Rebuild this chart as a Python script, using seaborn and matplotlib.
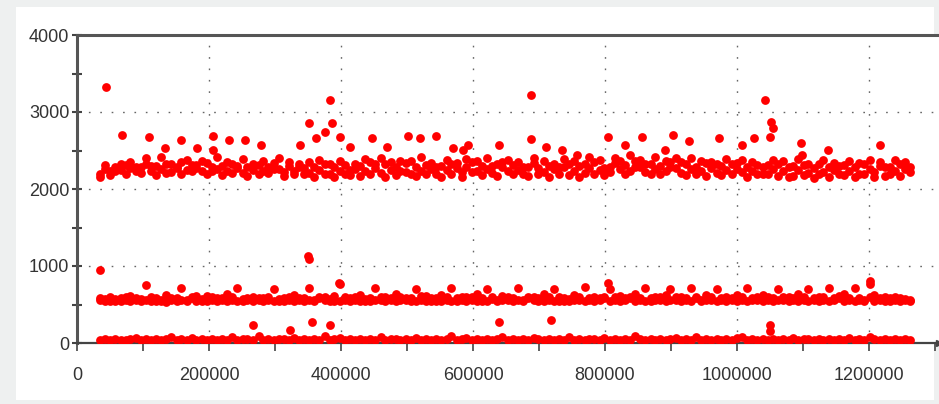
import numpy as np
import pandas as pd
import matplotlib
matplotlib.use('Agg')
import matplotlib.pyplot as plt
import matplotlib.ticker as mticker
from matplotlib.patches import Rectangle
import seaborn as sns

sns.set_style('white')
plt.rcParams['font.family'] = ['Liberation Sans Narrow', 'Liberation Sans', 'DejaVu Sans']

# sample positions (thousands)
x_k = [35, 43, 50, 58, 66, 74, 81, 89, 97, 104,
       112, 120, 127, 135, 143, 151, 158, 166, 174, 181,
       189, 197, 204, 212, 220, 228, 235, 243, 251, 258,
       267, 275, 282, 290, 298, 306, 313, 321, 329, 336,
       344, 352, 359, 367, 375, 383, 390, 398, 406, 413,
       421, 429, 436, 444, 452, 460, 467, 475, 483, 490,
       498, 506, 513, 521, 529, 537, 544, 552, 560, 567,
       575, 583, 590, 598, 606, 614, 621, 629, 637, 644,
       653, 661, 668, 676, 684, 692, 699, 707, 715, 722,
       730, 738, 745, 753, 761, 769, 776, 784, 792, 799,
       807, 815, 822, 830, 838, 846, 853, 861, 869, 876,
       884, 892, 899, 907, 915, 923, 930, 938, 946, 953,
       961, 969, 976, 984, 992, 1000, 1007, 1015, 1023, 1030,
       1039, 1047, 1054, 1062, 1070, 1078, 1085, 1093, 1101, 1108,
       1116, 1124, 1131, 1139, 1147, 1155, 1162, 1170, 1178, 1185,
       1193, 1201, 1208, 1216, 1224, 1232, 1239, 1247, 1255, 1262]

top_a = [2200, 2260, 2230, 2290, 2250, 2310, 2270, 2230, 2280, 2320,
         2240, 2300, 2260, 2330, 2220, 2290, 2350, 2250, 2310, 2270,
         2230, 2340, 2280, 2260, 2300, 2240, 2320, 2270, 2210, 2290,
         2250, 2310, 2230, 2280, 2340, 2260, 2220, 2300, 2240, 2330,
         2270, 2210, 2290, 2250, 2330, 2200, 2280, 2240, 2310, 2180,
         2260, 2300, 2230, 2350, 2270, 2210, 2320, 2250, 2290, 2230,
         2340, 2200, 2280, 2240, 2310, 2260, 2190, 2300, 2250, 2330,
         2270, 2220, 2290, 2350, 2240, 2300, 2260, 2210, 2320, 2280,
         2230, 2310, 2250, 2200, 2290, 2340, 2270, 2220, 2300, 2260,
         2190, 2280, 2330, 2240, 2300, 2210, 2270, 2350, 2250, 2180,
         2290, 2340, 2260, 2310, 2230, 2370, 2280, 2220, 2330, 2260,
         2300, 2240, 2350, 2270, 2210, 2320, 2260, 2290, 2230, 2340,
         2270, 2210, 2300, 2250, 2330, 2260, 2220, 2290, 2240, 2310,
         2280, 2190, 2260, 2320, 2230, 2290, 2170, 2250, 2310, 2210,
         2270, 2330, 2220, 2290, 2250, 2190, 2310, 2240, 2280, 2200,
         2330, 2260, 2220, 2300, 2170, 2280, 2240, 2320, 2260, 2290]

top_b = [2150, 2310, 2180, 2240, 2330, 2190, 2350, 2290, 2210, 2400,
         2300, 2180, 2420, 2210, 2330, 2270, 2190, 2380, 2230, 2310,
         2360, 2190, 2230, 2420, 2180, 2350, 2210, 2300, 2390, 2170,
         2330, 2190, 2370, 2210, 2260, 2400, 2170, 2350, 2200, 2280,
         2190, 2350, 2160, 2380, 2200, 2320, 2150, 2360, 2200, 2250,
         2330, 2170, 2390, 2200, 2320, 2400, 2160, 2350, 2180, 2370,
         2220, 2360, 2170, 2410, 2200, 2340, 2290, 2160, 2380, 2200,
         2340, 2160, 2390, 2220, 2360, 2180, 2400, 2300, 2170, 2350,
         2380, 2190, 2350, 2290, 2170, 2400, 2200, 2370, 2160, 2330,
         2290, 2390, 2180, 2360, 2150, 2330, 2420, 2200, 2380, 2270,
         2220, 2400, 2360, 2190, 2440, 2290, 2380, 2330, 2200, 2410,
         2190, 2370, 2290, 2400, 2350, 2180, 2400, 2200, 2360, 2170,
         2350, 2330, 2180, 2390, 2200, 2340, 2380, 2160, 2350, 2200,
         2190, 2310, 2380, 2170, 2360, 2150, 2300, 2390, 2180, 2330,
         2140, 2200, 2380, 2160, 2340, 2300, 2180, 2360, 2160, 2340,
         2200, 2380, 2160, 2350, 2280, 2200, 2380, 2170, 2350, 2220]

mid_a = [560, 570, 600, 550, 580, 560, 610, 560, 570, 750,
         550, 590, 560, 620, 560, 580, 720, 560, 600, 550,
         570, 610, 560, 590, 560, 630, 560, 720, 570, 560,
         600, 560, 580, 560, 700, 550, 590, 560, 620, 560,
         580, 720, 560, 600, 560, 570, 610, 760, 560, 590,
         560, 620, 550, 580, 710, 560, 600, 560, 630, 560,
         560, 590, 700, 560, 610, 550, 580, 620, 560, 720,
         580, 560, 600, 560, 630, 550, 700, 570, 560, 610,
         560, 590, 720, 560, 600, 560, 580, 630, 560, 700,
         600, 550, 570, 620, 560, 730, 560, 600, 560, 580,
         700, 560, 610, 560, 580, 640, 560, 720, 590, 560,
         560, 620, 700, 560, 600, 560, 710, 580, 560, 620,
         560, 700, 560, 600, 560, 620, 560, 710, 580, 560,
         620, 560, 580, 700, 560, 600, 560, 630, 560, 700,
         560, 600, 560, 710, 560, 580, 630, 560, 720, 580,
         560, 760, 620, 560, 600, 580, 560, 590, 560, 560]

mid_b = [580, 540, 550, 570, 540, 600, 550, 580, 540, 560,
         600, 540, 550, 530, 590, 550, 560, 540, 580, 610,
         540, 550, 600, 540, 580, 550, 600, 540, 550, 590,
         540, 590, 550, 600, 540, 570, 550, 600, 540, 580,
         550, 560, 540, 580, 600, 540, 550, 540, 600, 550,
         600, 540, 570, 550, 560, 600, 540, 580, 550, 600,
         580, 540, 550, 610, 540, 580, 550, 540, 600, 550,
         540, 600, 550, 600, 540, 580, 550, 600, 540, 560,
         600, 540, 560, 550, 580, 600, 540, 550, 600, 550,
         550, 590, 540, 560, 600, 550, 590, 540, 580, 600,
         550, 600, 540, 590, 600, 540, 580, 550, 550, 600,
         600, 550, 560, 600, 540, 590, 550, 600, 540, 560,
         600, 550, 590, 540, 580, 550, 600, 540, 560, 600,
         550, 600, 540, 560, 600, 540, 590, 550, 600, 550,
         590, 540, 600, 550, 580, 610, 540, 590, 550, 560,
         540, 600, 550, 580, 540, 550, 600, 540, 570, 540]

bot_a = [40, 50, 45, 55, 45, 40, 50, 60, 40, 55,
         45, 55, 45, 50, 80, 40, 55, 40, 60, 45,
         50, 45, 55, 40, 55, 45, 80, 45, 50, 55,
         40, 90, 45, 55, 45, 55, 50, 40, 60, 45,
         55, 45, 55, 45, 90, 40, 50, 60, 45, 55,
         45, 55, 40, 55, 45, 80, 45, 50, 55, 40,
         55, 45, 60, 45, 50, 40, 55, 45, 55, 85,
         40, 50, 60, 45, 55, 45, 55, 40, 50, 80,
         45, 55, 45, 55, 40, 60, 50, 45, 55, 45,
         50, 40, 80, 45, 55, 45, 55, 50, 40, 60,
         45, 55, 45, 55, 40, 90, 50, 45, 55, 45,
         55, 40, 50, 60, 45, 55, 45, 80, 40, 50,
         45, 55, 45, 50, 40, 60, 80, 45, 55, 45,
         55, 40, 50, 45, 55, 45, 60, 40, 50, 55,
         40, 55, 45, 55, 45, 50, 40, 60, 45, 55,
         45, 80, 50, 40, 55, 45, 55, 45, 50, 40]

# isolated points above the bands
odd_x_k = [44, 68, 109, 133, 158, 182, 206, 206, 230, 255, 279, 338, 351, 362,
           376, 383, 386, 398, 414, 447, 470, 502, 520, 544, 570, 585, 592, 639,
           688, 688, 711, 735, 758, 805, 830, 856, 891, 903, 927, 973, 1008, 1026,
           1042, 1051, 1054, 1050, 1097, 1098, 1138, 1217,
           35, 350, 352, 397, 805, 1202,
           267, 323, 356, 383, 640, 718, 1050, 1050]
odd_y = [3320, 2700, 2680, 2530, 2640, 2530, 2690, 2510, 2640, 2640, 2570, 2570, 2860, 2660,
         2740, 3160, 2860, 2680, 2550, 2660, 2550, 2690, 2660, 2690, 2530, 2510, 2570, 2570,
         3220, 2650, 2550, 2510, 2440, 2680, 2570, 2680, 2510, 2700, 2620, 2660, 2570, 2660,
         3160, 2870, 2790, 2680, 2600, 2440, 2510, 2570,
         948, 1130, 1090, 780, 780, 800,
         234, 170, 273, 234, 273, 300, 234, 160]

x_all = x_k * 5 + odd_x_k
y_all = top_a + top_b + mid_a + mid_b + bot_a + odd_y
df = pd.DataFrame({'x': np.array(x_all) * 1000, 'y': y_all})

W, H = 939, 404
fig = plt.figure(figsize=(W / 100, H / 100), dpi=100, facecolor='#eef0f0')
panel = Rectangle((16 / W, 4 / H), 918 / W, 393 / H, transform=fig.transFigure,
                  facecolor='white', edgecolor='none', zorder=-10)
fig.add_artist(panel)
ax = fig.add_axes([77 / W, 61 / H, 862 / W, 308 / H])
ax.set_zorder(1)
ax.set_facecolor('white')

sns.scatterplot(data=df, x='x', y='y', ax=ax, color='#ff0000', s=40, linewidth=0,
                legend=False, zorder=3)

ax.set_xlim(0, 1306000)
ax.set_ylim(0, 4000)
ax.xaxis.set_major_locator(mticker.MultipleLocator(200000))
ax.xaxis.set_minor_locator(mticker.MultipleLocator(100000))
ax.xaxis.set_major_formatter(mticker.FuncFormatter(lambda v, p: f'{v:.0f}'))
ax.yaxis.set_major_locator(mticker.MultipleLocator(1000))
ax.yaxis.set_minor_locator(mticker.MultipleLocator(500))
ax.yaxis.set_major_formatter(mticker.FuncFormatter(lambda v, p: f'{v:.0f}'))
ax.set_xlabel('')
ax.set_ylabel('')

ax.grid(True, which='major', linestyle=(0, (1.2, 7)), color='#666666', linewidth=1)
ax.set_axisbelow(True)

for side in ['left', 'top']:
    ax.spines[side].set_color('#555555')
    ax.spines[side].set_linewidth(2.2)
ax.spines['bottom'].set_color('#444444')
ax.spines['bottom'].set_linewidth(1.6)
ax.spines['right'].set_visible(False)
ax.plot([1], [0], marker='>', color='#444444', markersize=5, transform=ax.transAxes,
        clip_on=False, zorder=5)

ax.tick_params(axis='y', which='both', direction='inout', length=7, width=1.5,
               color='#444444', left=True, labelsize=13, labelcolor='#333333', pad=2)
ax.tick_params(axis='x', which='both', direction='out', length=6, width=1.2,
               color='#444444', bottom=True, labelsize=13, labelcolor='#333333', pad=11)

fig.savefig('out.png', dpi=100, facecolor=fig.get_facecolor())
